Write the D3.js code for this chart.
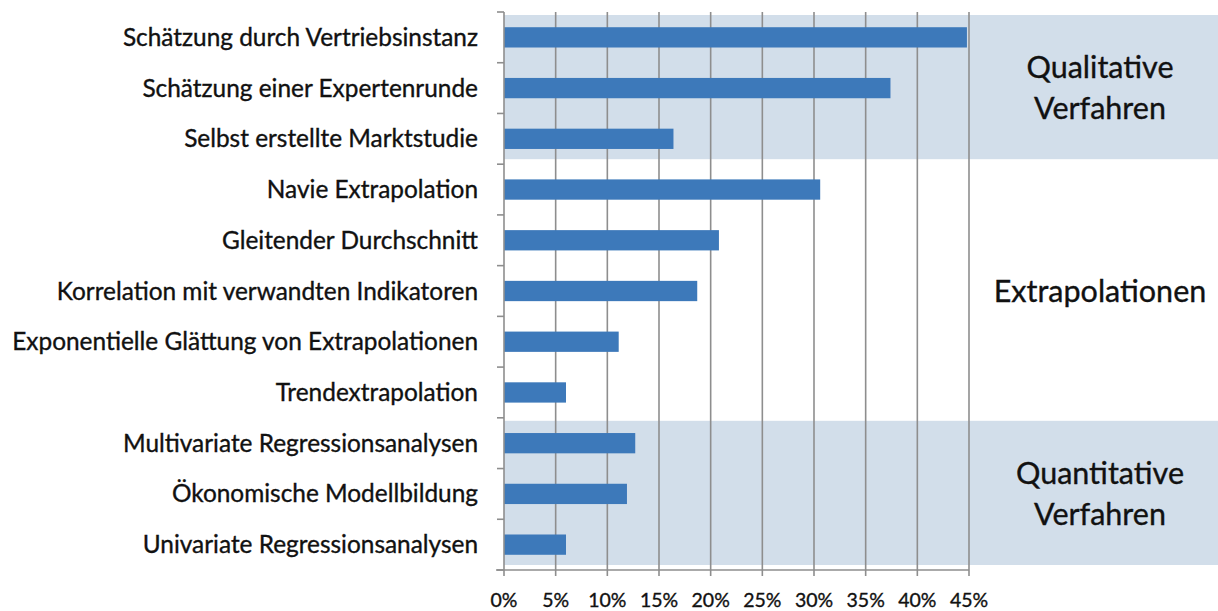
<!DOCTYPE html>
<html>
<head>
<meta charset="utf-8">
<script src="https://cdn.jsdelivr.net/npm/d3@7"></script>
<style>
  html, body { margin: 0; padding: 0; background: #fff; }
  svg { display: block; }
  text { font-family: Lato, "Open Sans", sans-serif; fill: #111; stroke: #111; stroke-width: 0.35; }
</style>
</head>
<body>
<svg id="chart" width="1218" height="611"></svg>
<script>
const categories = [
  "Schätzung durch Vertriebsinstanz",
  "Schätzung einer Expertenrunde",
  "Selbst erstellte Marktstudie",
  "Navie Extrapolation",
  "Gleitender Durchschnitt",
  "Korrelation mit verwandten Indikatoren",
  "Exponentielle Glättung von Extrapolationen",
  "Trendextrapolation",
  "Multivariate Regressionsanalysen",
  "Ökonomische Modellbildung",
  "Univariate Regressionsanalysen"
];
const values = [44.8, 37.4, 16.4, 30.6, 20.8, 18.7, 11.1, 6.0, 12.7, 11.9, 6.0];
const tickValues = [0, 5, 10, 15, 20, 25, 30, 35, 40, 45];
const groupNames = [["Qualitative", "Verfahren"], ["Extrapolationen"], ["Quantitative", "Verfahren"]];
const groupStart = [0, 3, 8];
const groupEnd = [2, 7, 10];
const groupShaded = [true, false, true];

const W = 1218, H = 611;
const margin = { left: 504, right: 249, top: 12, bottom: 41 };
const svg = d3.select("#chart");

const x = d3.scaleLinear().domain([0, 45]).range([margin.left, W - margin.right]);
const y = d3.scaleBand().domain(categories).range([margin.top, H - margin.bottom])
  .paddingInner(0.6).paddingOuter(0.3);
const step = y.step();
const gap = (step - y.bandwidth()) / 2;

// shaded group bands
groupShaded.forEach((s, i) => {
  if (!s) return;
  const y0 = y(categories[groupStart[i]]) - gap + 3;
  const y1 = y(categories[groupEnd[i]]) + y.bandwidth() + gap - 5;
  svg.append("rect")
    .attr("x", x(0)).attr("y", y0)
    .attr("width", W - x(0)).attr("height", y1 - y0)
    .attr("fill", "#d2deea");
});

// gridlines (with ticks extending below axis)
svg.append("g").selectAll("line").data(tickValues.slice(1)).join("line")
  .attr("x1", d => x(d)).attr("x2", d => x(d))
  .attr("y1", margin.top).attr("y2", H - margin.bottom + 6)
  .attr("stroke", "#8e8e8e").attr("stroke-width", 1.6);

// bars
svg.append("g").selectAll("rect").data(categories).join("rect")
  .attr("x", x(0))
  .attr("y", d => y(d))
  .attr("width", (d, i) => x(values[i]) - x(0))
  .attr("height", y.bandwidth())
  .attr("fill", "#3d79ba");

// y axis line and ticks at category boundaries
const yBottom = H - margin.bottom;
svg.append("line")
  .attr("x1", x(0)).attr("x2", x(0)).attr("y1", margin.top).attr("y2", yBottom + 6)
  .attr("stroke", "#8e8e8e").attr("stroke-width", 1.6);
const boundaries = d3.range(categories.length + 1).map(i => margin.top + i * step);
svg.append("g").selectAll("line").data(boundaries).join("line")
  .attr("x1", x(0) - 7).attr("x2", x(0))
  .attr("y1", d => d).attr("y2", d => d)
  .attr("stroke", "#8e8e8e").attr("stroke-width", 1.6);

// x axis line
svg.append("line")
  .attr("x1", x(0) - 8).attr("x2", x(45)).attr("y1", yBottom).attr("y2", yBottom)
  .attr("stroke", "#8e8e8e").attr("stroke-width", 1.6);

// x tick labels
svg.append("g").selectAll("text").data(tickValues).join("text")
  .attr("x", d => x(d)).attr("y", 607)
  .attr("text-anchor", "middle")
  .attr("font-size", 19.5)
  .text(d => d + "%");

// category labels
const labels = svg.append("g").selectAll("text").data(categories).join("text")
  .attr("x", 478)
  .attr("y", d => y(d) + y.bandwidth() / 2)
  .attr("dy", "0.35em")
  .attr("text-anchor", "end")
  .attr("font-size", 20)
  .text(d => d);
// fit font so the longest label spans the reference width
let maxW = 0;
labels.each(function () { maxW = Math.max(maxW, this.getComputedTextLength()); });
const fs = 20 * 466 / maxW;
labels.attr("font-size", fs);

// group labels on the right
const gx = 1100;
groupNames.forEach((lines, i) => {
  const yc = (y(categories[groupStart[i]]) + y(categories[groupEnd[i]]) + y.bandwidth()) / 2;
  const lh = 41;
  lines.forEach((t, j) => {
    svg.append("text")
      .attr("x", gx)
      .attr("y", yc + (j - (lines.length - 1) / 2) * lh)
      .attr("dy", "0.35em")
      .attr("text-anchor", "middle")
      .attr("font-size", 30.5)
      .text(t);
  });
});
</script>
</body>
</html>
